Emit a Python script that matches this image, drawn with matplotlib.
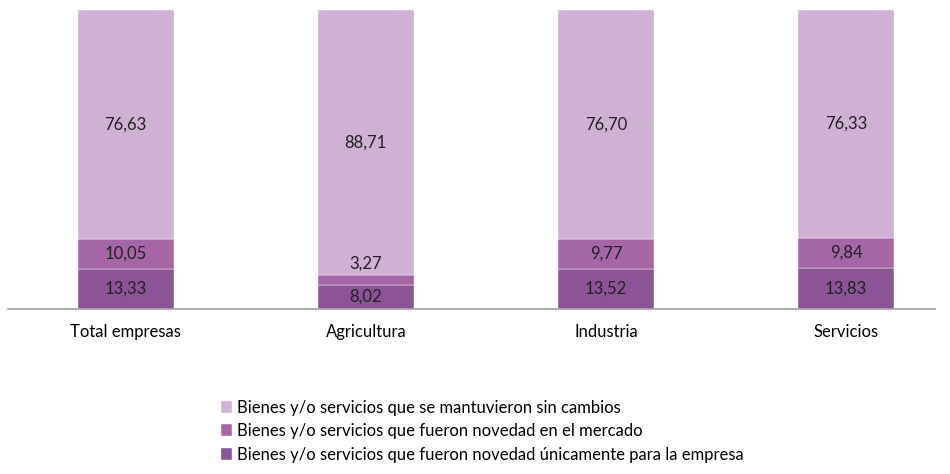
import matplotlib.pyplot as plt

categories = ['Total empresas', 'Agricultura', 'Industria', 'Servicios']
solo_empresa = [13.33, 8.02, 13.52, 13.83]
novedad_mercado = [10.05, 3.27, 9.77, 9.84]
sin_cambios = [76.63, 88.71, 76.70, 76.33]

series_names = [
    'Bienes y/o servicios que se mantuvieron sin cambios',
    'Bienes y/o servicios que fueron novedad en el mercado',
    'Bienes y/o servicios que fueron novedad únicamente para la empresa',
]
colors = ['#CFB1D3', '#A466A4', '#8B5495']

plt.rcParams['font.family'] = ['Lato', 'DejaVu Sans']

fig = plt.figure(figsize=(9.5, 4.74), dpi=100)
ax = fig.add_axes([8 / 950, 1 - 309 / 474, 927 / 950, 299 / 474])

x = range(len(categories))
w = 0.4
b1 = ax.bar(x, solo_empresa, w, color=colors[2], edgecolor='white', linewidth=0.3)
bottom2 = solo_empresa
b2 = ax.bar(x, novedad_mercado, w, bottom=bottom2, color=colors[1], edgecolor='white', linewidth=0.3)
bottom3 = [a + b for a, b in zip(solo_empresa, novedad_mercado)]
b3 = ax.bar(x, sin_cambios, w, bottom=bottom3, color=colors[0], edgecolor='white', linewidth=0.3)

def fmt(v):
    return f'{v:.2f}'.replace('.', ',')

fs = 12
for i in x:
    ax.text(i, solo_empresa[i] / 2, fmt(solo_empresa[i]), ha='center', va='center', fontsize=fs, color='#222222')
    mid = bottom2[i] + novedad_mercado[i] / 2
    if novedad_mercado[i] < 5:
        mid = bottom3[i] + 4
    ax.text(i, mid, fmt(novedad_mercado[i]), ha='center', va='center', fontsize=fs, color='#222222')
    ax.text(i, bottom3[i] + sin_cambios[i] / 2, fmt(sin_cambios[i]), ha='center', va='center', fontsize=fs, color='#222222')

ax.set_xlim(-0.49, 3.37)
ax.set_ylim(0, 100)
ax.set_xticks(list(x))
ax.set_xticklabels(categories, fontsize=fs)
ax.tick_params(axis='x', length=0, pad=11)
ax.set_yticks([])
for s in ['top', 'right', 'left']:
    ax.spines[s].set_visible(False)
ax.spines['bottom'].set_color('#A0A0A0')
ax.spines['bottom'].set_linewidth(1.2)

leg = fig.legend([b3, b2, b1], series_names, loc='upper left', bbox_to_anchor=(214 / 950, 1 - 393 / 474),
                 frameon=False, fontsize=fs, handlelength=0.7, handleheight=0.7, handletextpad=0.3,
                 labelspacing=0.45, borderaxespad=0)

fig.savefig('out.png', dpi=100)
